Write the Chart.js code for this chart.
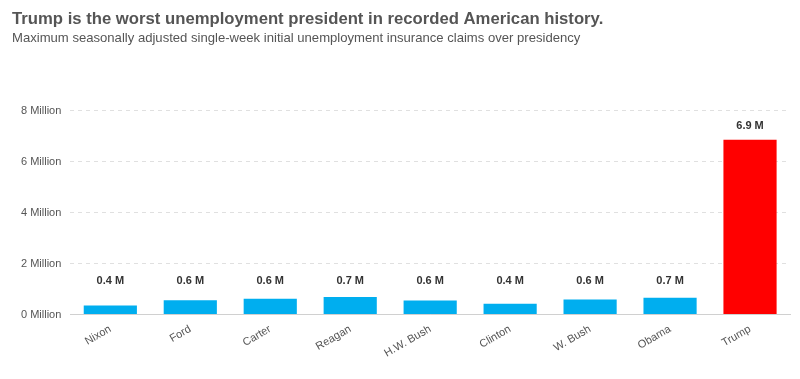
<!DOCTYPE html>
<html><head><meta charset="utf-8">
<script src="https://cdn.jsdelivr.net/npm/chart.js@4"></script>
<style>html,body{margin:0;padding:0;background:#fff}#wrap{width:800px;height:379px}</style>
</head><body><div id="wrap"><canvas id="c" width="800" height="379"></canvas></div>
<script>
const presidents = ["Nixon","Ford","Carter","Reagan","H.W. Bush","Clinton","W. Bush","Obama","Trump"];
const maxClaims = [355000, 560000, 620000, 695000, 550000, 430000, 590000, 665000, 6867000];
const barColors = ["#00aeef","#00aeef","#00aeef","#00aeef","#00aeef","#00aeef","#00aeef","#00aeef","#ff0000"];
const yTicks = [0, 2000000, 4000000, 6000000, 8000000];
const titleText = "Trump is the worst unemployment president in recorded American history.";
const subtitleText = "Maximum seasonally adjusted single-week initial unemployment insurance claims over presidency";

const valueLabels = {
  id: 'valueLabels',
  afterDatasetsDraw(chart) {
    const ctx = chart.ctx;
    const meta = chart.getDatasetMeta(0);
    const ys = chart.scales.y;
    ctx.save();
    ctx.font = 'bold 11px "Liberation Sans", Arial, sans-serif';
    ctx.fillStyle = '#333';
    ctx.textAlign = 'center';
    ctx.textBaseline = 'middle';
    meta.data.forEach((bar, i) => {
      const v = maxClaims[i];
      const y = Math.min(bar.y, ys.getPixelForValue(780000)) - 14;
      ctx.fillText((v / 1e6).toFixed(1) + ' M', bar.x, y);
    });
    ctx.restore();
  }
};

new Chart(document.getElementById('c'), {
  type: 'bar',
  data: {
    labels: presidents,
    datasets: [{
      data: maxClaims,
      backgroundColor: barColors,
      borderWidth: 0,
      categoryPercentage: 0.665,
      barPercentage: 1.0
    }]
  },
  options: {
    responsive: false,
    animation: false,
    layout: { padding: { left: 12, right: 10, top: 0, bottom: 19 } },
    plugins: {
      legend: { display: false },
      tooltip: { enabled: false },
      title: {
        display: true, text: titleText, align: 'start',
        color: '#555', font: { family: '"Liberation Sans", Arial, sans-serif', size: 16.7, weight: 'bold' },
        padding: { top: 9, bottom: 1 }
      },
      subtitle: {
        display: true, text: subtitleText, align: 'start',
        color: '#555', font: { family: '"Liberation Sans", Arial, sans-serif', size: 13.1 },
        padding: { top: 0, bottom: 65 }
      }
    },
    scales: {
      x: {
        grid: { display: false },
        border: { display: true, color: '#d0d0d0' },
        ticks: {
          color: '#555', maxRotation: 30, minRotation: 30, padding: 0,
          font: { family: '"Liberation Sans", Arial, sans-serif', size: 11 }
        }
      },
      y: {
        min: 0, max: 8000000,
        afterBuildTicks(axis) { axis.ticks = yTicks.map(v => ({ value: v })); },
        grid: { color: '#e0e0e0', drawTicks: false },
        border: { display: false, dash: [4, 4] },
        ticks: {
          color: '#555', padding: 9,
          font: { family: '"Liberation Sans", Arial, sans-serif', size: 11 },
          callback: v => (v / 1e6) + ' Million'
        }
      }
    }
  },
  plugins: [valueLabels]
});
</script></body></html>
